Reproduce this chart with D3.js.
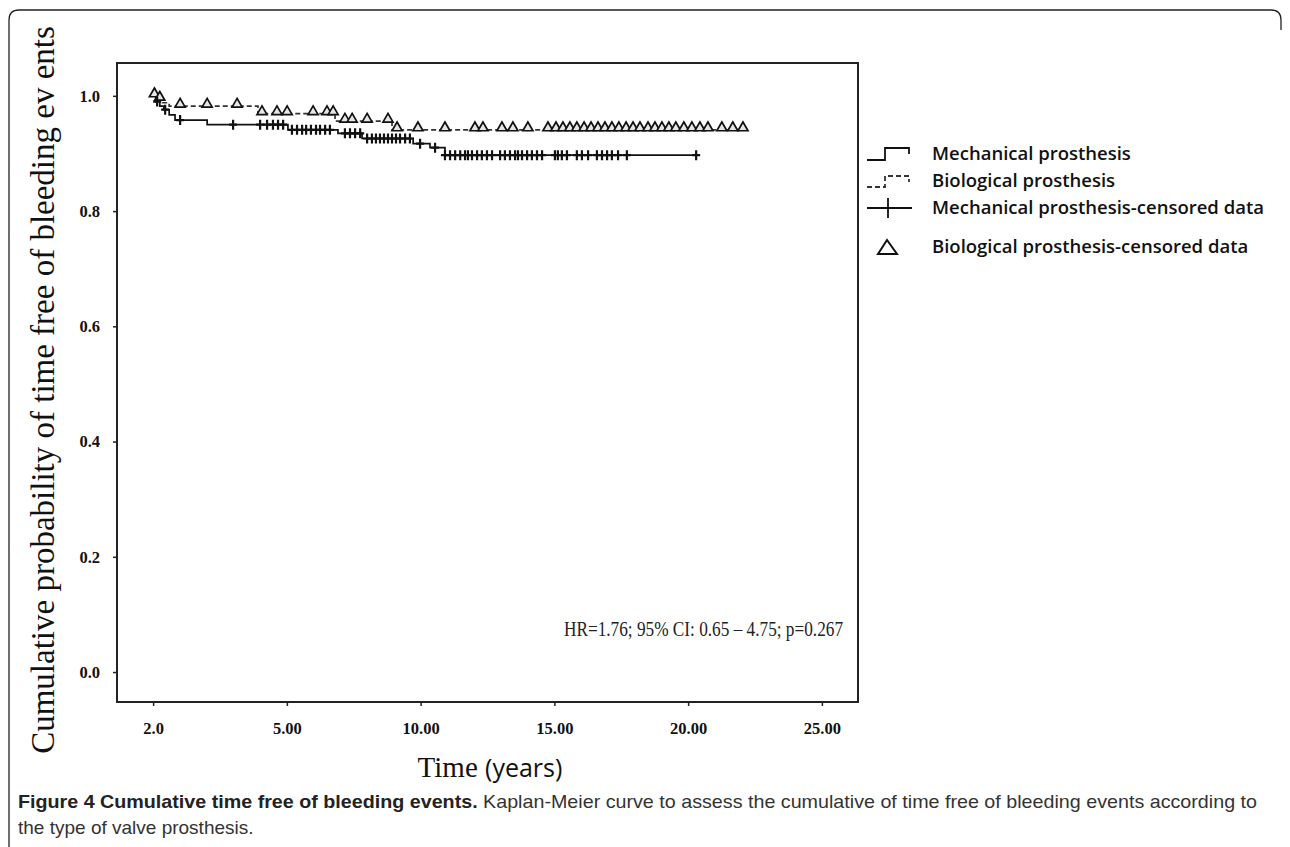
<!DOCTYPE html>
<html>
<head>
<meta charset="utf-8">
<script src="https://cdn.jsdelivr.net/npm/d3@7"></script>
<style>
  body { margin: 0; background: #fff; }
  svg { display: block; }
</style>
</head>
<body>
<svg id="chart" width="1290" height="847"></svg>
<script>
'use strict';

// ---- data ----
// Mechanical prosthesis: step times (years) and survival after each step
var mechTimes = [0, 0.1, 0.25, 0.4, 0.6, 0.82, 2.02, 5.04, 6.91, 7.81, 9.72, 10.35, 10.91];
var mechSurv  = [1.0, 0.990, 0.982, 0.976, 0.967, 0.958, 0.950, 0.941, 0.935, 0.926, 0.917, 0.910, 0.897];
var mechEnd = 20.3;
var mechCensored = [0.15, 0.45, 1.01, 2.99, 4.0, 4.26, 4.48, 4.67, 4.86, 5.19, 5.38, 5.57, 5.72, 5.9, 6.09, 6.24,
  6.43, 6.61, 7.17, 7.36, 7.55, 7.74, 8.0, 8.18, 8.33, 8.48, 8.63, 8.78, 8.93, 9.08, 9.23, 9.42, 9.6,
  9.98, 10.54, 10.91, 11.1, 11.29, 11.48, 11.66, 11.77, 11.92, 12.11, 12.29, 12.48, 12.67, 12.97,
  13.15, 13.34, 13.53, 13.64, 13.79, 13.98, 14.16, 14.35, 14.54, 15.02, 15.13, 15.28, 15.47, 15.84,
  16.03, 16.26, 16.59, 16.78, 16.97, 17.15, 17.38, 17.71, 20.3];

// Biological prosthesis
var bioTimes = [0, 0.15, 0.35, 0.6, 3.92, 6.8, 8.93];
var bioSurv  = [1.0, 0.994, 0.988, 0.982, 0.969, 0.956, 0.941];
var bioEnd = 22.05;
var bioCensored = [0.05, 0.25, 1.01, 2.02, 3.14, 4.07, 4.63, 5.01, 5.98, 6.5, 6.73, 7.17, 7.44, 8.0, 8.78, 9.12,
  9.9, 10.91, 12.03, 12.33, 13.04, 13.45, 14.01, 14.76, 15.06, 15.32, 15.58, 15.84, 16.11, 16.37,
  16.63, 16.89, 17.15, 17.41, 17.68, 17.94, 18.2, 18.5, 18.76, 19.02, 19.28, 19.54, 19.84, 20.14,
  20.44, 20.74, 21.26, 21.67, 22.05];

// axis ticks (the first x tick is printed as "2.0" in the original)
var xTicks = [0, 5, 10, 15, 20, 25];
var xTickLabels = ["2.0", "5.00", "10.00", "15.00", "20.00", "25.00"];
var yTicks = [0, 0.2, 0.4, 0.6, 0.8, 1.0];
var yTickLabels = ["0.0", "0.2", "0.4", "0.6", "0.8", "1.0"];

var legendLabels = ["Mechanical prosthesis", "Biological prosthesis",
  "Mechanical prosthesis-censored data", "Biological prosthesis-censored data"];

// ---- layout ----
var svg = d3.select("#chart");
var plot = {left: 117, top: 63, right: 858, bottom: 702};

var x = d3.scaleLinear().domain([-1.35, 26.35]).range([plot.left, plot.right]);
var y = d3.scaleLinear().domain([-0.052, 1.057]).range([plot.bottom, plot.top]);

// outer figure frame with rounded top corners
svg.append("path")
  .attr("d", "M9,847 L9,20 Q9,10 19,10 L1271,10 Q1281,10 1281,20 L1281,30")
  .attr("fill", "none")
  .attr("stroke", "#222")
  .attr("stroke-width", 1.3);

// plot box
svg.append("rect")
  .attr("x", plot.left).attr("y", plot.top)
  .attr("width", plot.right - plot.left).attr("height", plot.bottom - plot.top)
  .attr("fill", "none").attr("stroke", "#222").attr("stroke-width", 2);

// y axis
var yAxis = svg.append("g")
  .attr("transform", "translate(" + plot.left + ",0)")
  .call(d3.axisLeft(y).tickValues(yTicks).tickSize(4).tickPadding(13)
    .tickFormat(function(d, i) { return yTickLabels[i]; }));
yAxis.select(".domain").remove();

// x axis
var xAxis = svg.append("g")
  .attr("transform", "translate(0," + plot.bottom + ")")
  .call(d3.axisBottom(x).tickValues(xTicks).tickSize(4).tickPadding(16)
    .tickFormat(function(d, i) { return xTickLabels[i]; }));
xAxis.select(".domain").remove();

svg.selectAll(".tick line").attr("stroke", "#222").attr("stroke-width", 1.5);
svg.selectAll(".tick text")
  .attr("fill", "#111")
  .style("font-family", "'Liberation Serif', serif")
  .style("font-weight", "bold")
  .style("font-size", "16.5px");

// axis titles
svg.append("text")
  .attr("transform", "translate(54,390) rotate(-90)")
  .attr("text-anchor", "middle")
  .style("font-family", "'Liberation Serif', serif")
  .style("font-size", "33px")
  .attr("fill", "#111")
  .text("Cumulative probability of time free of bleeding ev ents");

var xTitle = svg.append("text")
  .attr("x", 490).attr("y", 777)
  .attr("text-anchor", "middle")
  .attr("fill", "#111")
  .style("font-size", "29px");
xTitle.append("tspan").style("font-family", "'Liberation Serif', serif").text("Time ");
xTitle.append("tspan").style("font-family", "'Open Sans', sans-serif").style("font-size", "25px").text("(years)");

// ---- curves ----
function stepPoints(times, surv, end) {
  var pts = times.map(function(t, i) { return [t, surv[i]]; });
  pts.push([end, surv[surv.length - 1]]);
  return pts;
}
function survAt(times, surv, t) {
  var i = d3.bisectRight(times, t) - 1;
  return surv[Math.max(i, 0)];
}

var line = d3.line()
  .x(function(d) { return x(d[0]); })
  .y(function(d) { return y(d[1]); })
  .curve(d3.curveStepAfter);

svg.append("path")
  .datum(stepPoints(bioTimes, bioSurv, bioEnd))
  .attr("d", line)
  .attr("fill", "none")
  .attr("stroke", "#333")
  .attr("stroke-width", 1.7)
  .attr("stroke-dasharray", "5,3");

svg.append("path")
  .datum(stepPoints(mechTimes, mechSurv, mechEnd))
  .attr("d", line)
  .attr("fill", "none")
  .attr("stroke", "#111")
  .attr("stroke-width", 1.7);

// censored marks: triangles for biological
var tri = d3.symbol().type(d3.symbolTriangle).size(44);
svg.selectAll(".bioMark")
  .data(bioCensored)
  .enter().append("path")
  .attr("class", "bioMark")
  .attr("d", tri)
  .attr("transform", function(t) {
    return "translate(" + x(t) + "," + (y(survAt(bioTimes, bioSurv, t)) - 2) + ")";
  })
  .attr("fill", "#e6e6e6")
  .attr("stroke", "#111")
  .attr("stroke-width", 1.7);

// censored marks: crosses for mechanical
svg.selectAll(".mechMark")
  .data(mechCensored)
  .enter().append("path")
  .attr("class", "mechMark")
  .attr("d", function(t) {
    var cx = x(t), cy = y(survAt(mechTimes, mechSurv, t));
    return "M" + (cx - 4) + "," + cy + "H" + (cx + 4) + "M" + cx + "," + (cy - 5) + "V" + (cy + 5);
  })
  .attr("stroke", "#111")
  .attr("stroke-width", 2.2);

// annotation
svg.append("text")
  .attr("x", 843).attr("y", 636)
  .attr("text-anchor", "end")
  .attr("fill", "#222")
  .attr("textLength", 279)
  .attr("lengthAdjust", "spacingAndGlyphs")
  .style("font-family", "'Liberation Serif', serif")
  .style("font-size", "21px")
  .text("HR=1.76; 95% CI: 0.65 \u2013 4.75; p=0.267");

// ---- legend ----
var legend = svg.append("g").attr("transform", "translate(867,0)");
var rowY = [154, 181, 208, 247];

legend.append("path")
  .attr("d", "M0,160H18V148H42V154")
  .attr("fill", "none").attr("stroke", "#111").attr("stroke-width", 1.8);
legend.append("path")
  .attr("d", "M0,187H18V176H42V182")
  .attr("fill", "none").attr("stroke", "#333").attr("stroke-width", 1.8)
  .attr("stroke-dasharray", "5,3");
legend.append("path")
  .attr("d", "M0,208H45M21,198V218")
  .attr("fill", "none").attr("stroke", "#111").attr("stroke-width", 1.8);
legend.append("path")
  .attr("d", "M11,254L20,240L30,254Z")
  .attr("fill", "none").attr("stroke", "#111").attr("stroke-width", 2);

legend.selectAll(".legText")
  .data(legendLabels)
  .enter().append("text")
  .attr("class", "legText")
  .attr("x", 65)
  .attr("y", function(d, i) { return rowY[i] + 6; })
  .attr("fill", "#111")
  .style("font-family", "'Open Sans', sans-serif")
  .style("font-weight", "600")
  .style("font-size", "18.5px")
  .text(function(d) { return d; });

// ---- caption ----
var capFont = "'Liberation Sans', sans-serif";
var cap1 = svg.append("text")
  .attr("x", 18).attr("y", 808)
  .attr("fill", "#222")
  .attr("textLength", 1239)
  .attr("lengthAdjust", "spacingAndGlyphs")
  .style("font-family", capFont)
  .style("font-size", "19px");
cap1.append("tspan").style("font-weight", "bold").text("Figure 4 Cumulative time free of bleeding events.");
cap1.append("tspan").attr("fill", "#333").text(" Kaplan-Meier curve to assess the cumulative of time free of bleeding events according to");

svg.append("text")
  .attr("x", 18).attr("y", 834)
  .attr("fill", "#333")
  .style("font-family", capFont)
  .style("font-size", "19px")
  .text("the type of valve prosthesis.");
</script>
</body>
</html>
